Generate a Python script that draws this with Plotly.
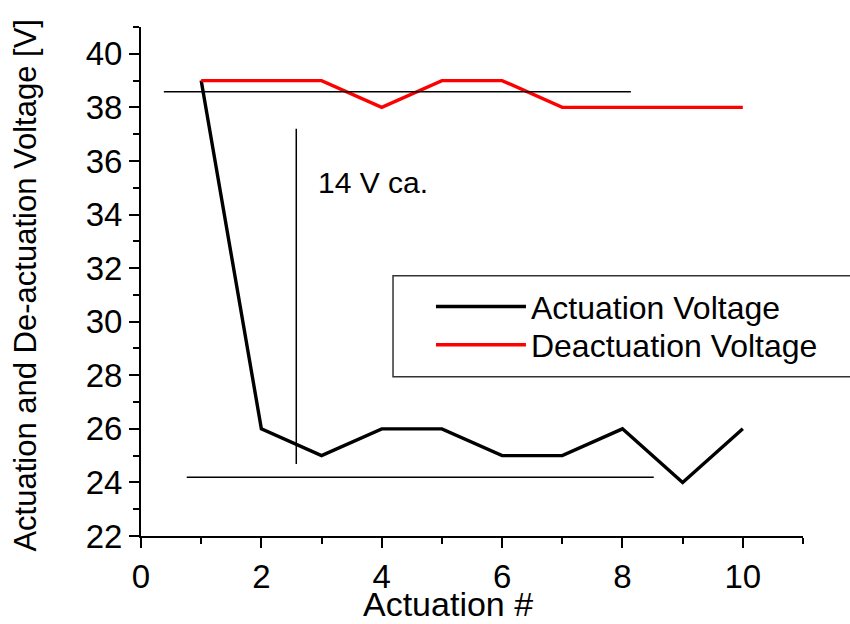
import plotly.graph_objects as go

actuation_n = [1, 2, 3, 4, 5, 6, 7, 8, 9, 10]
actuation_v = [39, 26, 25, 26, 26, 25, 25, 26, 24, 26]
deactuation_v = [39, 39, 39, 38, 39, 39, 38, 38, 38, 38]

x_ticks = [0, 2, 4, 6, 8, 10]
y_ticks = [22, 24, 26, 28, 30, 32, 34, 36, 38, 40]

FONT = "Liberation Sans, Arial, sans-serif"

fig = go.Figure()
fig.add_trace(go.Scatter(x=actuation_n, y=actuation_v, mode="lines",
                         name="Actuation Voltage", legend="legend",
                         line=dict(color="black", width=3.4)))
fig.add_trace(go.Scatter(x=actuation_n, y=deactuation_v, mode="lines",
                         name="Deactuation Voltage", legend="legend2",
                         line=dict(color="#ff0000", width=3.4)))

# reference lines
fig.add_shape(type="line", xref="x", yref="y", x0=0.38, x1=8.14, y0=38.58, y1=38.58,
              line=dict(color="black", width=1.5))
fig.add_shape(type="line", xref="x", yref="y", x0=0.76, x1=8.52, y0=24.19, y1=24.19,
              line=dict(color="black", width=1.5))
fig.add_shape(type="line", xref="x", yref="y", x0=2.58, x1=2.58, y0=24.69, y1=37.2,
              line=dict(color="black", width=1.5))
# legend box
fig.add_shape(type="rect", xref="paper", yref="paper", x0=0.3807, x1=1.2, y0=0.313, y1=0.5114,
              line=dict(color="#333333", width=1.5))

fig.add_annotation(x=2.9, y=35.2, xref="x", yref="y", text="14 V ca.", showarrow=False,
                   xanchor="left", yanchor="middle", font=dict(size=30, color="black", family=FONT))

# axis titles
fig.add_annotation(x=0.4645, y=-0.1729, xref="paper", yref="paper", text="Actuation #",
                   showarrow=False, xanchor="center", yanchor="bottom", borderpad=0,
                   font=dict(size=34, color="black", family=FONT))
fig.add_annotation(x=-0.1737, y=0.492, xref="paper", yref="paper",
                   text="Actuation and De-actuation Voltage [V]", textangle=-90,
                   showarrow=False, xanchor="center", yanchor="middle",
                   font=dict(size=31, color="black", family=FONT))

axis_common = dict(showgrid=False, zeroline=False, showline=True, linecolor="black",
                   linewidth=2, ticks="outside", ticklen=10, tickwidth=2, tickcolor="black",
                   tickfont=dict(size=33, color="black", family=FONT), mirror=False,
                   automargin=False)

fig.update_xaxes(range=[0, 11], tickvals=x_ticks, ticktext=[str(v) for v in x_ticks],
                 minor=dict(dtick=1, tick0=0, ticks="outside", ticklen=6, tickwidth=2, tickcolor="black"),
                 **axis_common)
fig.update_yaxes(range=[22, 41], tickvals=y_ticks, ticktext=[str(v) for v in y_ticks],
                 minor=dict(dtick=1, tick0=0, ticks="outside", ticklen=6, tickwidth=2, tickcolor="black"),
                 **axis_common)

legend_common = dict(xanchor="left", yanchor="middle", bgcolor="rgba(0,0,0,0)", borderwidth=0,
                     font=dict(size=32, color="black", family=FONT), itemwidth=90)

fig.update_layout(
    width=850, height=624,
    margin=dict(l=141, r=47, t=27, b=88),
    plot_bgcolor="white", paper_bgcolor="white",
    showlegend=True,
    legend=dict(x=0.438, y=0.4505, **legend_common),
    legend2=dict(x=0.438, y=0.3752, **legend_common),
)

fig.write_html("out.html")
